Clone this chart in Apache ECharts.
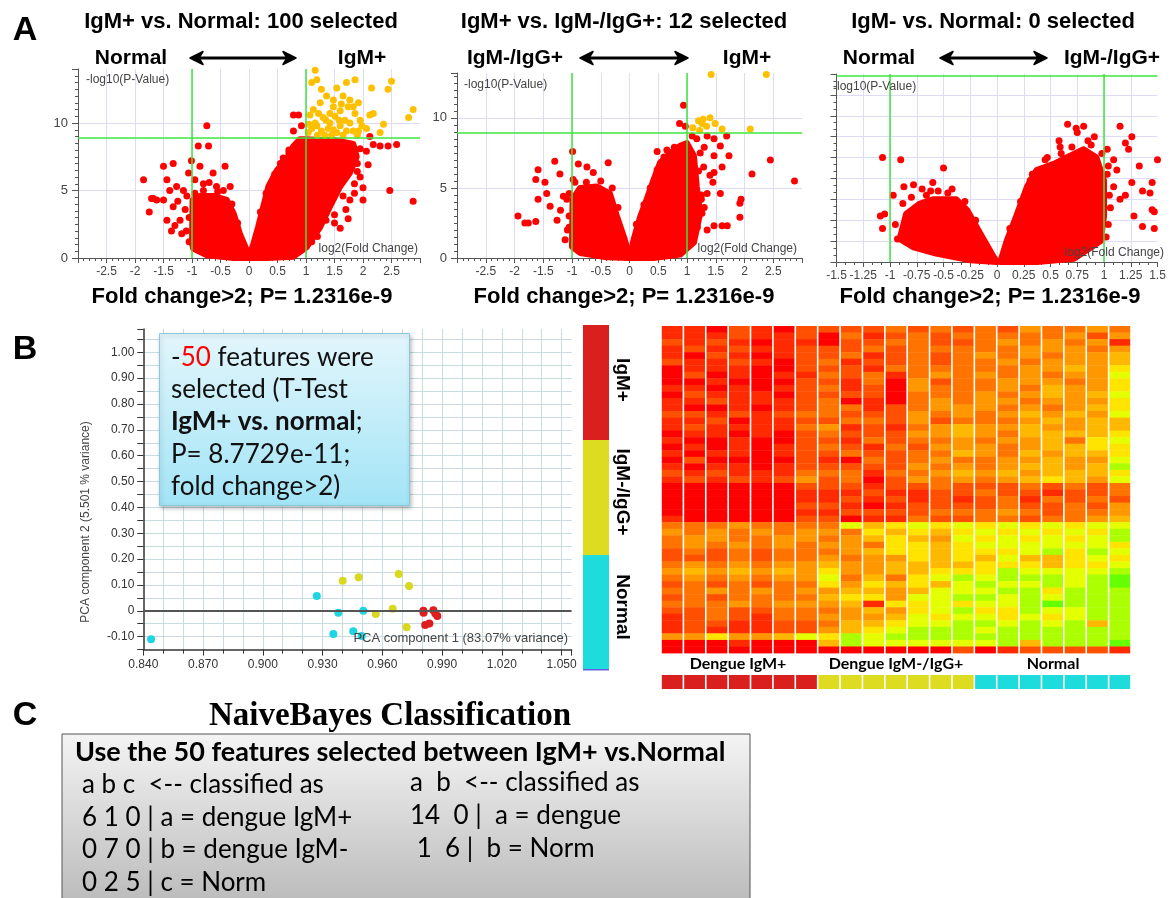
<!DOCTYPE html>
<html><head><meta charset="utf-8">
<script src="https://cdn.jsdelivr.net/npm/echarts@6.0.0/dist/echarts.min.js"></script>
<style>html,body{margin:0;padding:0;background:#fff}#c{width:1171px;height:898px}</style>
</head><body><div id="c"></div>
<script>
// ---------------- DATA ----------------
// Panel A volcano plots: [log2 fold change, -log10 p]
const pThreshold = 8.91;            // -log10(1.2316e-9)
const foldLines = [-1, 1];

const a1DenseLeft = [[-1.0,1.1],[-0.99,4.3],[-0.86,4.6],[-0.63,4.6],[-0.39,4.3],[-0.27,3.3],[-0.16,1.8],[-0.04,0.6],[0,0],[-0.27,0],[-0.74,0.2],[-0.98,0.7]];
const a1DenseRight = [[0,0],[0.08,1.1],[0.16,2.3],[0.25,3.8],[0.34,5.3],[0.49,6.5],[0.66,7.3],[0.78,8.3],[0.89,8.8],[1.0,8.8],[1.25,8.75],[1.48,8.75],[1.83,8.45],[1.89,7.5],[1.77,6.3],[1.6,5.3],[1.42,3.8],[1.25,2.3],[1.01,0.8],[0.78,0.1],[0.3,0]];
const a1Red = [[-1.85,5.8],[-1.71,4.4],[-1.68,4.4],[-1.75,3.4],[-1.50,6.8],[-1.33,7.0],[-1.44,5.8],[-1.39,5.0],[-1.27,5.3],[-1.50,4.3],[-1.33,3.8],[-1.36,2.0],[-1.21,2.8],[-1.18,1.8],[-1.09,4.6],[-1.06,6.3],[-1.01,7.2],[-0.89,8.3],[-0.71,8.3],[-0.74,9.8],[-0.86,6.8],[-0.63,6.3],[-0.42,6.8],[-0.33,5.3],[-0.57,5.3],[-0.80,5.5],[-1.12,3.6],[-1.44,2.8],[-1.62,4.3],[-1.25,4.2],[-1.15,5.0],[-0.95,5.8],[-0.7,5.6],[-1.3,2.4],
  [-0.95,4.8],[-0.8,5.0],[-0.55,4.9],[-0.45,5.0],[-0.3,4.0],[-0.2,2.6],[-1.05,3.0],[-1.1,2.0],[-1.05,1.2],
  [0.2,3.4],[0.3,4.8],[0.45,6.2],[0.55,7.0],[0.7,7.8],[1.9,7.0],[1.95,6.0],[1.85,4.8],[1.65,4.6],[1.5,3.2],[1.35,2.8],[1.2,1.6],[1.1,1.2],
  [2.18,8.4],[2.30,8.3],[2.44,8.3],[2.59,8.4],[2.09,6.9],[2.0,5.2],[2.0,4.3],[2.47,5.0],[2.88,4.2],[1.77,4.3],[1.74,2.9],[1.60,2.2],[0.78,10.6],[0.87,10.6],[0.78,9.4],[0.92,9.8],[2.12,9.0],[1.95,8.1],[2.06,7.9],[1.9,6.4],[1.85,5.5],[1.7,3.6],[1.5,2.6],[0.7,8.0],[0.6,7.4]];
const a1Yellow = [[1.16,13.9],[1.19,13.2],[1.10,13.0],[1.27,12.5],[1.54,12.6],[1.48,11.7],[1.71,13.0],[1.86,13.2],[1.65,12.0],[1.36,12.0],[1.77,11.7],[1.83,11.2],[2.15,12.6],[2.44,12.5],[2.50,13.1],[2.88,11.0],[2.80,10.4],[2.36,9.9],[2.30,9.3],[2.18,10.7],[2.06,9.6],[1.95,10.2],[1.92,9.4],[1.13,11.0],[1.22,10.7],[1.07,10.6],[1.30,10.4],[1.42,10.7],[1.51,10.5],[1.60,10.9],[1.68,10.2],[1.77,10.0],[1.60,9.8],[1.48,9.5],[1.39,9.6],[1.27,9.4],[1.19,9.8],[1.10,9.6],[1.04,9.3],[1.16,10.0],[1.71,9.4],[1.83,9.4],[1.54,9.3],[1.33,9.1],[1.65,9.1],[1.86,10.7],[1.98,9.8],[1.25,11.5],[1.48,11.2],[1.62,11.4],[1.74,11.2],[1.92,11.5],[1.42,10.0],[2.12,10.6],[1.2,9.1],[1.45,9.1],[1.05,9.9],[1.35,10.2],[1.58,10.2],[1.9,9.1]];

const a2DenseLeft = [[-1,0.8],[-0.99,4.2],[-0.86,5.0],[-0.57,5.1],[-0.34,4.6],[-0.22,3.0],[-0.08,1.3],[0,0],[-0.4,0.05],[-0.86,0.36]];
const a2DenseRight = [[0,0],[0.07,1.3],[0.19,3.0],[0.30,4.2],[0.42,5.6],[0.53,6.8],[0.71,7.5],[0.88,8.0],[1.0,8.2],[1.12,7.3],[1.17,5.1],[1.23,3.2],[1.12,1.1],[0.88,0.24],[0.42,0]];
const a2Red = [[-1.94,3.0],[-1.82,2.5],[-1.76,2.5],[-1.63,2.6],[-1.59,6.3],[-1.63,5.6],[-1.59,4.2],[-1.44,4.6],[-1.30,6.9],[-1.47,5.4],[-1.21,6.0],[-1.15,4.4],[-1.26,2.7],[-1.12,1.3],[-1.09,4.2],[-0.99,7.6],[-0.89,6.7],[-0.74,6.5],[-0.63,6.1],[-0.37,6.8],[-0.98,5.6],[-1.38,3.7],[-1.2,3.4],[-1.05,2.2],
  [-1.05,4.6],[-0.95,5.4],[-0.75,5.4],[-0.5,5.5],[-0.3,5.0],[-0.2,3.6],[-1.05,3.0],[-1.08,2.0],
  [0.12,2.4],[0.25,3.8],[0.36,5.0],[0.48,6.3],[0.6,7.2],[0.78,7.9],[1.2,6.2],[1.25,4.5],[1.3,3.6],[1.18,2.2],
  [0.94,10.9],[0.87,9.6],[0.97,9.4],[1.09,8.7],[1.17,8.5],[1.35,8.7],[1.47,8.5],[1.69,8.7],[1.58,8.0],[1.73,7.3],[1.61,6.5],[1.47,6.1],[1.29,6.5],[1.45,5.4],[1.35,4.6],[1.58,4.6],[1.26,3.2],[1.47,2.3],[1.61,2.3],[1.70,2.3],[1.92,3.9],[1.94,4.2],[1.92,2.9],[2.13,6.0],[2.45,7.0],[2.87,5.5],[0.48,7.6],[0.65,7.7],[0.83,7.6],[1.23,7.5],[1.47,7.3],[1.3,7.9],[1.4,5.9],[1.25,4.2],[1.35,2.0]];
const a2Yellow = [[1.42,13.1],[2.38,13.1],[1.20,9.8],[1.28,9.9],[1.40,10.0],[1.49,9.6],[1.10,9.3],[1.22,9.1],[1.34,9.4],[1.61,9.2],[2.10,9.2],[1.26,9.6]];

const a3DenseLeft = [[-0.91,1.1],[-0.85,2.3],[-0.72,2.8],[-0.60,3.0],[-0.47,3.0],[-0.38,3.0],[-0.28,2.5],[-0.16,1.4],[-0.03,0.24],[0,0],[-0.25,0.08],[-0.57,0.4],[-0.78,0.7]];
const a3DenseRight = [[0.03,0],[0.09,1.0],[0.18,2.2],[0.28,3.6],[0.37,4.4],[0.53,4.7],[0.65,5.0],[0.81,5.4],[0.93,5.0],[1.0,3.9],[1.0,2.2],[0.97,1.0],[0.72,0.16],[0.37,0]];
const a3Red = [[-1.07,5.0],[-1.09,2.2],[-1.05,2.3],[-1.07,1.6],[-0.90,4.9],[-0.97,3.2],[-0.87,3.6],[-0.78,3.7],[-0.66,3.2],[-0.50,4.5],[-0.60,3.8],[-0.46,3.3],[-0.85,1.5],[-0.93,1.1],[-0.7,3.5],[-0.55,3.4],
  [-0.95,1.8],[-0.88,2.8],[-0.8,3.1],[-0.62,3.4],[-0.42,3.5],[-0.3,2.9],[-0.2,2.0],
  [0.12,1.6],[0.22,2.9],[0.33,4.2],[0.45,4.9],[0.6,5.2],[0.88,5.6],[0.98,5.2],[1.04,4.6],[1.05,3.2],[1.04,1.8],[1.02,1.2],
  [0.66,6.6],[0.74,6.4],[0.81,6.5],[0.75,6.2],[0.91,6.0],[0.58,5.8],[0.59,5.5],[1.15,6.5],[1.26,6.0],[1.20,5.7],[1.23,5.4],[1.03,5.4],[1.09,4.9],[1.33,4.6],[1.50,4.9],[1.26,3.8],[1.36,3.4],[1.45,3.8],[1.43,3.3],[1.45,2.5],[1.47,2.4],[1.36,1.7],[1.47,1.6],[1.09,3.6],[1.15,3.0],[1.06,2.6],[1.28,2.2],[0.47,5.0],[0.39,4.2],[0.31,3.9],[1.03,4.2],[0.85,5.8],[0.7,5.5],[1.12,4.4],[1.2,3.2]];

// Panel B PCA: [component 1, component 2]
const pcaIgMpos = [[0.9806,0.0],[0.9807,-0.007],[0.9856,0.002],[0.9876,-0.02],[0.9815,-0.055],[0.9836,-0.049],[0.9866,-0.010]];
const pcaIgMneg = [[0.9401,0.116],[0.9481,0.130],[0.9682,0.142],[0.9734,0.096],[0.9652,0.008],[0.9567,-0.012],[0.9722,-0.064]];
const pcaNormal = [[0.8439,-0.110],[0.9271,0.057],[0.9379,-0.007],[0.9504,0.0],[0.9354,-0.090],[0.9454,-0.079],[0.9496,-0.097]];

// Heatmap: 50 features x 21 samples, level 0 (red, high) .. 9 (green, low)
const sampleGroups = [0,0,0,0,0,0,0,1,1,1,1,1,1,1,2,2,2,2,2,2,2];
const groupNames = ['Dengue IgM+','Dengue IgM-/IgG+','Normal'];
const sideGroups = ['IgM+','IgM-/IgG+','Normal'];
const heatRows = [
'110210222232323243343','111211203123233333424','212101102233223434341','121211222323333344434',
'102101223123234343445','211210231223233434445','011100222133333344546','020101132313434343447',
'001000221304233444346','110101231204333435446','021110222203334345457','112111230103434434446',
'100101233123444343456','221212332224343454547','112011223324233345455','121111341213454454455',
'011010232224454355556','100100221323343445367','010101232132444345566','101101223223354354556',
'020000210323433445447','101101222224343455458','212111333133454545556','121212423024343456547',
'000000222122322232323','000000111211223221223','000000112121212313232','000000221012222322324',
'000000112222333432334','100000220113223323345',
'333433337567676767677','434343443656567676768','344334434565476767678','343434344366567777776',
'232323334566566678687','222323343446565755676','343434454455556665667','454545464455666877778',
'343434473536787888789','232323364656578778789','334343445545777886888','232333356647788787888',
'333434445166767789888','223223334546786687788','123213344457677676788','122112235567788787858',
'121112245678887888888','446445768788888888888','000100058777777858889','000000000000020122221'
];
const heatPalette = ['#ff0000','#ff2a00','#ff4f00','#ff7400','#ff9800','#ffb800','#ffe400','#e4ff00','#acff00','#66ff00'];
const groupColors = ['#d9201e','#dedc20','#1edcdc'];

// ---------------- CHART ----------------
const chart = echarts.init(document.getElementById('c'), null, {renderer:'canvas'});
const SANS = 'Liberation Sans, Arial, sans-serif';
const CAL = 'Lato, Open Sans, sans-serif';

function polyRender(pts){
  return function(params, api){
    const p = pts.map(d => api.coord(d));
    return {type:'polygon', shape:{points:p}, style:{fill:'#ff0000', stroke:'#ff0000', lineWidth:6, lineJoin:'round'}};
  };
}
function volX(gi, min, max, interval, minorSplit){
  return {gridIndex:gi, type:'value', min:min, max:max, interval:interval,
    axisLine:{onZero:false, lineStyle:{color:'#555', width:1}},
    axisTick:{show:true, length:5, lineStyle:{color:'#555'}},
    minorTick:{show:true, splitNumber:minorSplit, length:3, lineStyle:{color:'#555'}},
    axisLabel:{color:'#444', fontSize:12, fontFamily:SANS, margin:8,
      formatter:v => (Math.abs(v) > 2.9 && max > 2 ? '' : String(+v.toFixed(2)))},
    splitLine:{show:true, showMinLine:false, showMaxLine:false, lineStyle:{color:'#dcdcf6', width:1}}};
}
function volY(gi, max, interval, minorSplit, showLabels){
  return {gridIndex:gi, type:'value', min:0, max:max, interval:interval,
    axisLine:{show:true, onZero:false, lineStyle:{color:'#555'}},
    axisTick:{show:true, length:6, lineStyle:{color:'#555'}},
    minorTick:{show:true, splitNumber:minorSplit, length:3, lineStyle:{color:'#555'}},
    axisLabel:{show:showLabels, color:'#444', fontSize:13, fontFamily:SANS, margin:10,
      formatter:v => (v % 5 === 0 ? String(v) : '')},
    splitLine:{show:true, showMinLine:false, showMaxLine:false, lineStyle:{color:'#dcdcf6'}}};
}
function thresholdSeries(xi, yi){
  return {type:'scatter', xAxisIndex:xi, yAxisIndex:yi, data:[], z:10, silent:true,
    markLine:{silent:true, symbol:'none', animation:false, label:{show:false},
      lineStyle:{color:'#3ee63e', width:1.5, type:'solid'},
      data:[{xAxis:foldLines[0]},{xAxis:foldLines[1]},{yAxis:pThreshold}]}};
}
function scat(xi, yi, data, color, size){
  return {type:'scatter', xAxisIndex:xi, yAxisIndex:yi, data:data, symbolSize:size,
    itemStyle:{color:color, opacity:1}, silent:true, clip:false};
}
function dense(xi, yi, pts){
  return {type:'custom', xAxisIndex:xi, yAxisIndex:yi, data:[[0,0]], renderItem:polyRender(pts), silent:true, clip:false};
}

const heatData = [];
heatRows.forEach((row, r) => { for (let c = 0; c < row.length; c++) heatData.push([c, r, +row[c]]); });
const stripData = sampleGroups.map((g, i) => [i, 0, g]);
const cols = sampleGroups.map((g, i) => String(i));
const rowsCat = heatRows.map((r, i) => String(i));

function txt(x, y, text, size, opts){
  return Object.assign({type:'text', x:x, y:y, z:100, silent:true,
    style:Object.assign({text:text, fontSize:size, fontFamily:SANS, fontWeight:'bold', fill:'#000', align:'center', verticalAlign:'middle'}, (opts||{}).style||{})},
    (opts||{}).el||{});
}
function arrow(x1, x2, y){
  return [
    {type:'line', z:100, silent:true, shape:{x1:x1+6, y1:y, x2:x2-6, y2:y}, style:{stroke:'#000', lineWidth:3}},
    {type:'polygon', z:100, silent:true, shape:{points:[[x1,y],[x1+13,y-6.5],[x1+9,y],[x1+13,y+6.5]]}, style:{fill:'#000', stroke:'#000', lineWidth:1.5, lineJoin:'round'}},
    {type:'polygon', z:100, silent:true, shape:{points:[[x2,y],[x2-13,y-6.5],[x2-9,y],[x2-13,y+6.5]]}, style:{fill:'#000', stroke:'#000', lineWidth:1.5, lineJoin:'round'}}
  ];
}
function rect(x, y, w, h, style){ return {type:'rect', z:100, silent:true, shape:{x:x, y:y, width:w, height:h}, style:style}; }

const graphics = [
  txt(25, 31, 'A', 34), txt(25, 350, 'B', 34), txt(25, 716, 'C', 34),
  txt(241, 22, 'IgM+ vs. Normal: 100 selected', 22),
  txt(624, 22, 'IgM+ vs. IgM-/IgG+: 12 selected', 22),
  txt(993, 22, 'IgM- vs. Normal: 0 selected', 22),
  txt(131, 58, 'Normal', 21), txt(362, 58, 'IgM+', 21),
  txt(515, 58, 'IgM-/IgG+', 21), txt(747, 58, 'IgM+', 21),
  txt(879, 58, 'Normal', 21), txt(1112, 58, 'IgM-/IgG+', 21),
  ...arrow(190, 296, 58), ...arrow(580, 688, 58), ...arrow(940, 1047, 58),
  txt(242, 297, 'Fold change>2; P= 1.2316e-9', 22),
  txt(624, 297, 'Fold change>2; P= 1.2316e-9', 22),
  txt(990, 297, 'Fold change>2; P= 1.2316e-9', 22),
  // inner axis titles
  txt(86, 80, '-log10(P-Value)', 12, {style:{fontWeight:'normal', fill:'#444', align:'left'}}),
  txt(418, 249, 'log2(Fold Change)', 12, {style:{fontWeight:'normal', fill:'#444', align:'right'}}),
  txt(464, 85, '-log10(P-Value)', 12, {style:{fontWeight:'normal', fill:'#444', align:'left'}}),
  txt(797, 249, 'log2(Fold Change)', 12, {style:{fontWeight:'normal', fill:'#444', align:'right'}}),
  txt(833, 87, '-log10(P-Value)', 12, {style:{fontWeight:'normal', fill:'#444', align:'left'}}),
  txt(1164, 253, 'log2(Fold Change)', 12, {style:{fontWeight:'normal', fill:'#444', align:'right'}}),
  // PCA axis names
  txt(568, 638, 'PCA component 1 (83.07% variance)', 13, {style:{fontWeight:'normal', fill:'#444', align:'right'}}),
  txt(86, 522, 'PCA component 2 (5.501 % variance)', 12, {style:{fontWeight:'normal', fill:'#444'}, el:{rotation:Math.PI/2}}),
  // PCA text box
  rect(159.5, 333.5, 250, 172, {fill:new echarts.graphic.LinearGradient(0,0,0,1,[{offset:0,color:'#e3f6fc'},{offset:1,color:'#a2e4f6'}]),
      stroke:'#8cc9dd', lineWidth:1, shadowBlur:4, shadowColor:'rgba(0,0,0,0.25)', shadowOffsetX:1, shadowOffsetY:2}),
  {type:'text', z:101, silent:true, x:171, y:341.5, style:{
    text:'-{r|50} features were\nselected (T-Test\n{b|IgM+ vs. normal};\nP= 8.7729e-11;\nfold change>2)',
    fontSize:26, fontFamily:CAL, fill:'#111', lineHeight:32.2, align:'left', verticalAlign:'top',
    rich:{r:{fill:'#ff0000', fontSize:26, fontFamily:CAL, lineHeight:32.2}, b:{fontWeight:'bold', fontSize:26, fontFamily:CAL, lineHeight:32.2, fill:'#111'}}}},
  // side colour bar
  rect(583, 325, 26, 115, {fill:groupColors[0]}),
  rect(583, 440, 26, 115, {fill:groupColors[1]}),
  rect(583, 555, 26, 114, {fill:groupColors[2]}),
  rect(583, 669, 26, 1.5, {fill:'#6a5ae0'}),
  txt(622, 380, sideGroups[0], 19, {el:{rotation:-Math.PI/2}}),
  txt(622, 492, sideGroups[1], 19, {el:{rotation:-Math.PI/2}}),
  txt(622, 607, sideGroups[2], 19, {el:{rotation:-Math.PI/2}}),
  // heatmap group labels
  txt(738, 664, groupNames[0], 16, {style:{fontFamily:CAL}}),
  txt(896, 664, groupNames[1], 16, {style:{fontFamily:CAL}}),
  txt(1053, 664, groupNames[2], 16, {style:{fontFamily:CAL}}),
  // panel C
  txt(390, 716, 'NaiveBayes Classification', 33, {style:{fontFamily:'Liberation Serif, serif'}}),
  rect(62, 734, 688, 175, {fill:new echarts.graphic.LinearGradient(0,0,0,1,[{offset:0,color:'#f4f4f4'},{offset:1,color:'#b9b9b9'}]), stroke:'#555', lineWidth:1}),
  txt(75, 752, 'Use the 50 features selected between IgM+ vs.Normal', 27, {style:{fontFamily:CAL, align:'left'}}),
  txt(82, 785, 'a b c  <-- classified as', 26, {style:{fontFamily:CAL, fontWeight:'normal', align:'left'}}),
  txt(82, 818, '6 1 0 | a = dengue IgM+', 26, {style:{fontFamily:CAL, fontWeight:'normal', align:'left'}}),
  txt(82, 850, '0 7 0 | b = dengue IgM-', 26, {style:{fontFamily:CAL, fontWeight:'normal', align:'left'}}),
  txt(82, 883, '0 2 5 | c = Norm', 26, {style:{fontFamily:CAL, fontWeight:'normal', align:'left'}}),
  txt(410, 783, 'a  b  <-- classified as', 26, {style:{fontFamily:CAL, fontWeight:'normal', align:'left'}}),
  txt(410, 816, '14  0 |  a = dengue', 26, {style:{fontFamily:CAL, fontWeight:'normal', align:'left'}}),
  txt(410, 849, ' 1  6 |  b = Norm', 26, {style:{fontFamily:CAL, fontWeight:'normal', align:'left'}})
];

const option = {
  animation:false,
  backgroundColor:'#fff',
  grid:[
    {left:78, top:69, width:342, height:189},
    {left:457, top:73, width:345, height:185},
    {left:836.5, top:74, width:321, height:188},
    {left:143.3, top:329, width:428.3, height:320.6},
    {left:661, top:326, width:470, height:327},
    {left:661, top:675, width:470, height:14}
  ],
  xAxis:[
    volX(0, -3, 3, 0.5, 5),
    volX(1, -3, 3, 0.5, 5),
    volX(2, -1.5, 1.5, 0.25, 3),
    {gridIndex:3, type:'value', min:0.84, max:1.055, interval:0.03,
      axisLine:{onZero:false, lineStyle:{color:'#333', width:1.5}},
      axisTick:{length:6, lineStyle:{color:'#333'}},
      minorTick:{show:true, splitNumber:3, length:4, lineStyle:{color:'#333'}},
      axisLabel:{color:'#333', fontSize:12, fontFamily:SANS, margin:9,
        formatter:v => (Math.abs(v/0.03 - Math.round(v/0.03)) < 1e-6 ? v.toFixed(3) : '')},
      splitLine:{show:true, showMinLine:false, showMaxLine:false, lineStyle:{color:'#c7dbe0'}},
      minorSplitLine:{show:true, lineStyle:{color:'#c7dbe0'}}},
    {gridIndex:4, type:'category', data:cols, show:false},
    {gridIndex:5, type:'category', data:cols, show:false}
  ],
  yAxis:[
    volY(0, 14, 5, 10, true),
    volY(1, 13.2, 5, 10, true),
    volY(2, 9, 1, 3, false),
    {gridIndex:3, type:'value', min:-0.15, max:1.09, interval:0.05,
      axisLine:{show:true, onZero:false, lineStyle:{color:'#333', width:1.5}},
      axisTick:{show:true, length:6, lineStyle:{color:'#333'}},
      axisLabel:{color:'#333', fontSize:12, fontFamily:SANS, margin:9,
        formatter:v => { const k = Math.round(v*100); if (k % 10 !== 0 || k < -10 || k > 100) return ''; return k === 0 ? '0' : (k/100).toFixed(2); }},
      splitLine:{show:true, showMinLine:false, showMaxLine:false, lineStyle:{color:'#c7dbe0'}}},
    {gridIndex:4, type:'category', data:rowsCat, inverse:true, show:false},
    {gridIndex:5, type:'category', data:['g'], show:false}
  ],
  visualMap:[{type:'continuous', show:false, seriesIndex:16, dimension:2, min:0, max:9, inRange:{color:heatPalette}}],
  series:[
    dense(0,0,a1DenseLeft), dense(0,0,a1DenseRight), scat(0,0,a1Red,'#ff0000',7), scat(0,0,a1Yellow,'#ffc000',7), thresholdSeries(0,0),
    dense(1,1,a2DenseLeft), dense(1,1,a2DenseRight), scat(1,1,a2Red,'#ff0000',7), scat(1,1,a2Yellow,'#ffc000',7), thresholdSeries(1,1),
    dense(2,2,a3DenseLeft), dense(2,2,a3DenseRight), scat(2,2,a3Red,'#ff0000',7),
    thresholdSeries(2,2),
    Object.assign(scat(3,3,pcaNormal,'#1ed6e0',8), {markLine:{silent:true, symbol:'none', animation:false, label:{show:false}, lineStyle:{color:'#555', width:2, type:'solid'}, data:[{yAxis:0}]}}),
    scat(3,3,pcaIgMneg,'#d8d81e',8),
    {type:'custom', xAxisIndex:4, yAxisIndex:4, data:heatData, silent:true,
      encode:{x:0, y:1},
      renderItem:function(params, api){
        const c = api.coord([api.value(0), api.value(1)]);
        const s = api.size([1, 1]);
        return {type:'rect', shape:{x:c[0]-s[0]/2+0.8, y:c[1]-s[1]/2, width:s[0]-1.6, height:s[1]+0.4}, style:{fill:api.visual('color')}};
      }},
    {type:'custom', xAxisIndex:5, yAxisIndex:5, data:stripData, silent:true,
      encode:{x:0, y:1},
      renderItem:function(params, api){
        const c = api.coord([api.value(0), 0]);
        const s = api.size([1, 1]);
        return {type:'rect', shape:{x:c[0]-s[0]/2+0.8, y:c[1]-s[1]/2, width:s[0]-1.6, height:s[1]}, style:{fill:groupColors[api.value(2)]}};
      }},
    scat(3,3,pcaIgMpos,'#dd1e1e',8)
  ],
  graphic:{elements:graphics}
};
chart.setOption(option);
</script></body></html>
